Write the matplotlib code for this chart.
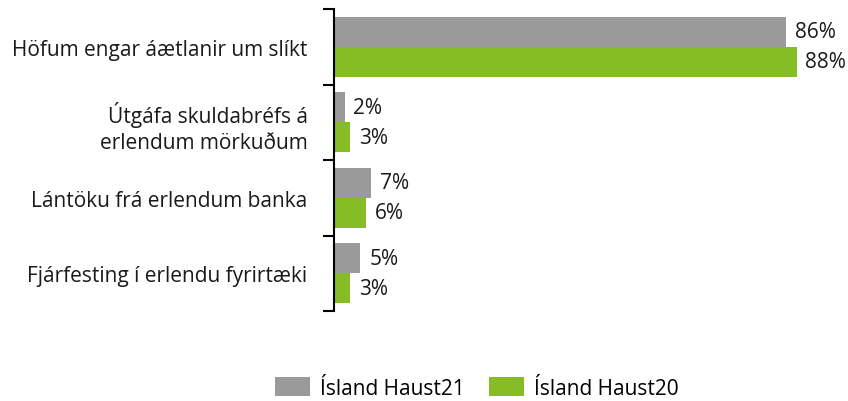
import matplotlib
matplotlib.use("Agg")
import matplotlib.pyplot as plt
import numpy as np

categories = ["Höfum engar áætlanir um slíkt",
              "Útgáfa skuldabréfs á\nerlendum mörkuðum",
              "Lántöku frá erlendum banka",
              "Fjárfesting í erlendu fyrirtæki"]
haust21 = [86, 2, 7, 5]
haust20 = [88, 3, 6, 3]
series_names = ["Ísland Haust21", "Ísland Haust20"]
colors = ["#9A9A9A", "#86BC25"]

plt.rcParams['font.family'] = ['Open Sans', 'DejaVu Sans']

W, H = 848, 402
fig = plt.figure(figsize=(W/100, H/100), dpi=100)
ax = fig.add_axes([334/W, 90/H, (W-334)/W, 302/H])

y = np.arange(len(categories))
bh = 0.4
b1 = ax.barh(y - bh/2, haust21, height=bh, color=colors[0], label=series_names[0])
b2 = ax.barh(y + bh/2, haust20, height=bh, color=colors[1], label=series_names[1])

for bars, vals in ((b1, haust21), (b2, haust20)):
    for rect, v in zip(bars, vals):
        ax.text(rect.get_width() + 1.7, rect.get_y() + rect.get_height()/2,
                f"{v}%", va="center", ha="left", fontsize=15, color="#1a1a1a")

ax.set_ylim(len(categories) - 0.5, -0.5)
ax.set_xlim(0, (W - 334) / 5.256)

ax.set_yticks(y)
ax.set_yticklabels(categories, fontsize=15, color="#1a1a1a", linespacing=1.3)
ax.tick_params(axis='y', which='major', length=0, pad=19)
ax.set_yticks(np.arange(-0.5, len(categories)), minor=True)
ax.tick_params(axis='y', which='minor', length=8, width=1.5, color="black")
ax.set_xticks([])
for s in ("top", "right", "bottom"):
    ax.spines[s].set_visible(False)
ax.spines["left"].set_linewidth(1.5)

fig.legend(handles=[b1, b2], labels=series_names, loc="center",
           bbox_to_anchor=(477/W, 1 - 389/H), ncol=2, frameon=False,
           fontsize=15, handlelength=1.68, handleheight=1.0, columnspacing=1.15,
           handletextpad=0.48, borderpad=0.2)

fig.savefig("out.png", dpi=100)
